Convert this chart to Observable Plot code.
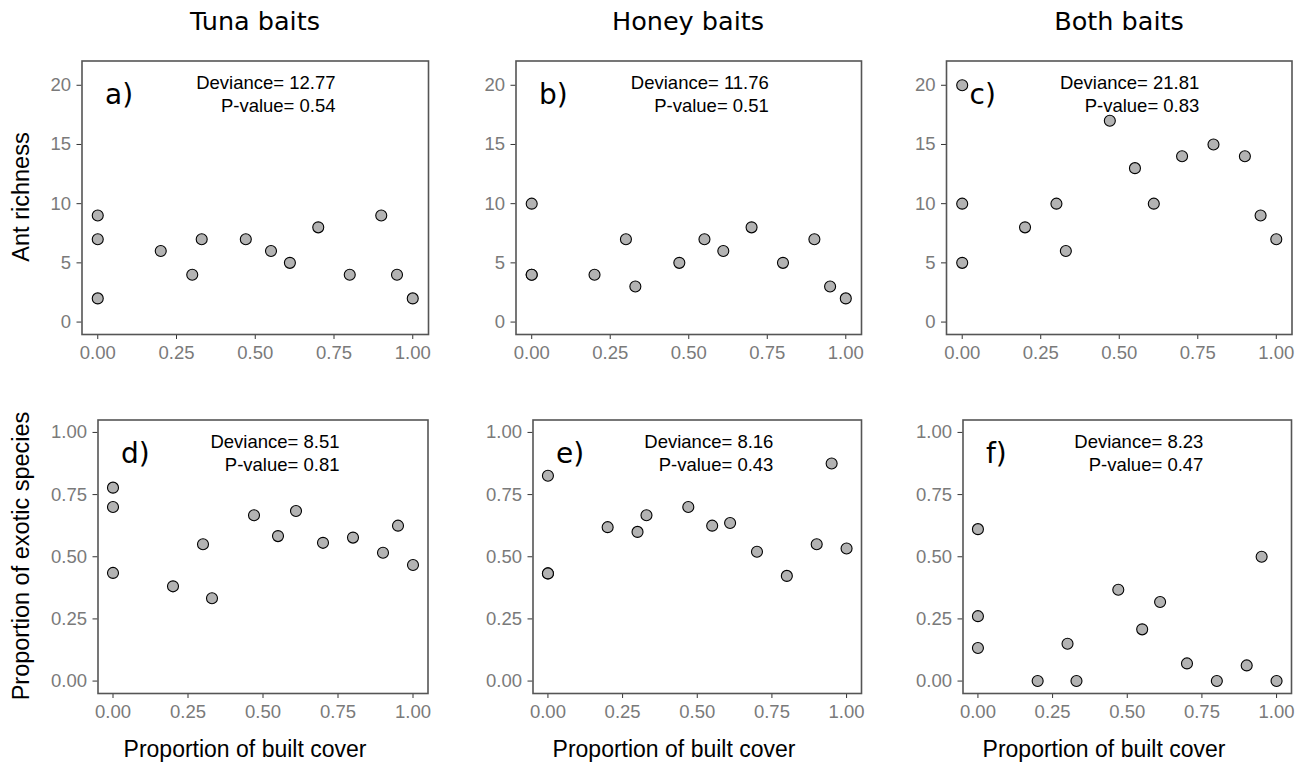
<!DOCTYPE html>
<html><head><meta charset="utf-8">
<script src="https://cdn.jsdelivr.net/npm/d3@7"></script>
<script src="https://cdn.jsdelivr.net/npm/@observablehq/plot@0.6"></script>
<style>
body{margin:0;background:#fff;}
#wrap{position:relative;width:1309px;height:762px;overflow:hidden;font-family:"Liberation Sans",Arial,sans-serif;}
#wrap svg{position:absolute;left:0;top:0;}
.t{position:absolute;white-space:nowrap;color:#000;line-height:1;}
</style></head><body><div id="wrap"></div>
<script>
// ---- data ----
const builtCover = [0, 0, 0, 0.2, 0.3, 0.33, 0.47, 0.55, 0.61, 0.7, 0.8, 0.9, 0.95, 1.0];
const tunaRichness  = [9, 7, 2, 6, 4, 7, 7, 6, 5, 8, 4, 9, 4, 2];
const honeyRichness = [10, 4, 4, 4, 7, 3, 5, 7, 6, 8, 5, 7, 3, 2];
const bothRichness  = [20, 10, 5, 8, 10, 6, 17, 13, 10, 14, 15, 14, 9, 7];
const tunaExotic  = [0.778, 0.700, 0.435, 0.381, 0.550, 0.333, 0.667, 0.583, 0.684, 0.556, 0.577, 0.516, 0.625, 0.467];
const honeyExotic = [0.826, 0.433, 0.433, 0.619, 0.600, 0.667, 0.700, 0.625, 0.636, 0.520, 0.423, 0.550, 0.875, 0.533];
const bothExotic  = [0.611, 0.261, 0.133, 0, 0.150, 0, 0.367, 0.208, 0.318, 0.071, 0, 0.063, 0.500, 0];
const columnTitles = ["Tuna baits", "Honey baits", "Both baits"];
const rowTitles = ["Ant richness", "Proportion of exotic species"];
const xTitle = "Proportion of built cover";
const panelLetters = ["a)", "b)", "c)", "d)", "e)", "f)"];
const deviances = ["12.77", "11.76", "21.81", "8.51", "8.16", "8.23"];
const pValues = ["0.54", "0.51", "0.83", "0.81", "0.43", "0.47"];
const xTicks = [0, 0.25, 0.5, 0.75, 1];
const richTicks = [0, 5, 10, 15, 20];
const propTicks = [0, 0.25, 0.5, 0.75, 1];

const seriesValues = [tunaRichness, honeyRichness, bothRichness, tunaExotic, honeyExotic, bothExotic];

// ---- layout (panel frames in page pixels) ----
const W = 1309, H = 762;
const frames = [
  {l: 81.5, r: 428, t: 60.5, b: 334},
  {l: 515.5, r: 861, t: 60.5, b: 334},
  {l: 946, r: 1291.5, t: 60.5, b: 334},
  {l: 97.5, r: 427.5, t: 419.5, b: 693},
  {l: 532.5, r: 861, t: 419.5, b: 693},
  {l: 962.5, r: 1291, t: 419.5, b: 693}
];

const wrap = document.getElementById("wrap");
const fmt2 = d3.format(".2f");

seriesValues.forEach((vals, i) => {
  const f = frames[i];
  const row = i < 3 ? 0 : 1;
  const data = builtCover.map((x, j) => ({x, y: vals[j]}));
  const yTicks = row === 0 ? richTicks : propTicks;
  const yFmt = row === 0 ? d3.format("d") : fmt2;
  const chart = Plot.plot({
    width: W, height: H,
    marginLeft: f.l, marginRight: W - f.r, marginTop: f.t, marginBottom: H - f.b,
    x: {domain: [-0.05, 1.05]},
    y: {domain: row === 0 ? [-1.05, 22.05] : [-0.05, 1.05]},
    style: {background: "transparent", fontFamily: "Liberation Sans, Arial, sans-serif", overflow: "visible"},
    marks: [
      Plot.axisX({ticks: xTicks, tickFormat: fmt2, tickSize: 5, tickPadding: 6, fontSize: 18.5,
                  stroke: "#333", fill: "#7a7a7a", label: null}),
      Plot.axisY({ticks: yTicks, tickFormat: yFmt, tickSize: 5, tickPadding: 6, fontSize: 18.5,
                  stroke: "#333", fill: "#7a7a7a", label: null}),
      Plot.dot(data, {x: "x", y: "y", r: 5.5, fill: "#b3b3b3", stroke: "#000", strokeWidth: 1.1}),
      Plot.frame({stroke: "#555", strokeWidth: 1.6}),
      Plot.text([panelLetters[i]], {text: d => d, frameAnchor: "top-left", dx: 23, dy: 43,
                 lineAnchor: "bottom", textAnchor: "start", fontFamily: "DejaVu Sans", fontSize: 28, fill: "#000"}),
      Plot.text([{dev: deviances[i], p: pValues[i]}], {
        x: () => 0.755, frameAnchor: "top", dy: 11.5, lineAnchor: "top", textAnchor: "end",
        text: d => `Deviance= ${d.dev}\nP-value= ${d.p}`, lineHeight: 1.25, fontSize: 18.5, fill: "#000"})
    ]
  });
  wrap.appendChild(chart);
});

function addText(txt, css) {
  const d = document.createElement("div");
  d.className = "t";
  d.textContent = txt;
  Object.assign(d.style, css);
  wrap.appendChild(d);
}
const colCenters = [255, 688, 1119];
columnTitles.forEach((t, i) => addText(t, {left: colCenters[i] + "px", top: "8.5px", transform: "translateX(-50%)",
  fontFamily: "DejaVu Sans", fontSize: "25.5px"}));
const xTitleCenters = [245, 674, 1104];
xTitleCenters.forEach(c => addText(xTitle, {left: c + "px", top: "737.5px", transform: "translateX(-50%)", fontSize: "23px"}));
const rowCenters = [197, 556];
rowTitles.forEach((t, i) => addText(t, {left: "22px", top: rowCenters[i] + "px",
  transform: "translate(-50%,-50%) rotate(-90deg)", fontSize: "23.5px"}));
</script></body></html>
